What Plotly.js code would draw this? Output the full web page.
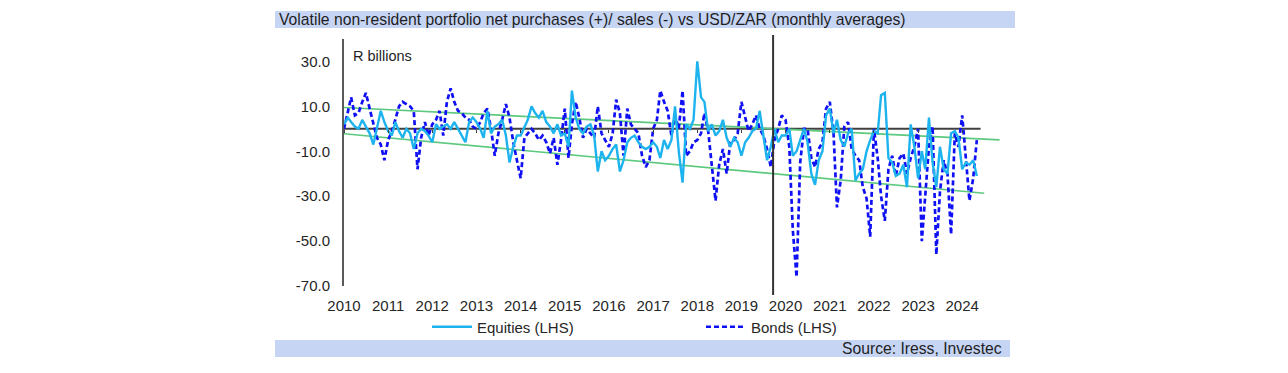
<!DOCTYPE html>
<html>
<head>
<meta charset="utf-8">
<script src="https://cdn.plot.ly/plotly-3.0.1.min.js"></script>
<style>
html,body{margin:0;padding:0;background:#fff;}
#chart{width:1288px;height:373px;}
</style>
</head>
<body>
<div id="chart"></div>
<script>
// ---- Data (R billions, monthly, Jan 2010 - May 2024) ----
var startYear = 2010;
var years = [2010,2011,2012,2013,2014,2015,2016,2017,2018,2019,2020,2021,2022,2023,2024];
var yearLabels = ["2010","2011","2012","2013","2014","2015","2016","2017","2018","2019","2020","2021","2022","2023","2024"];
var yTickVals = [-70, -50, -30, -10, 10, 30];
var yTickLabels = ["-70.0", "-50.0", "-30.0", "-10.0", "10.0", "30.0"];

var equities = [
  // 2010
  2, 5, 3, 1, 0, 4, 1, -2, -7, 0, 8, 3,
  // 2011
  -1, -3, 3, -1, -4, 0, -2, -9, -2, 0, -1, -3,
  // 2012
  -6, 2, 0, 1, 2, 0, 3, 0, -3, -6, 3, 5,
  // 2013
  3, 0, -4, 8, -2, 1, 2, 4, -3, -15, -8, -3,
  // 2014
  -3, 1, 4, 10, 7, 5, 8, 3, 1, -2, 2, -3,
  // 2015
  -2, -8, 17, 5, 0, -2, 1, 2, -3, -19, -10, -14,
  // 2016
  -12, -9, -7, -19, -14, -6, -4, -3, -6, -8, -9, -8,
  // 2017
  -6, -8, -13, -5, -9, -5, 10, -10, -24, 2, 0, 4,
  // 2018
  30, 14, 12, -1, 2, -3, -1, 4, -4, -8, -4, -6,
  // 2019
  -12, -6, -4, -1, 0, 8, -4, -14, -8, 0, -6, -3,
  // 2020
  -3, 0, -12, -10, -5, 0, -6, -20, -25, -14, -10, 6,
  // 2021
  9, -2, 4, -5, -8, -2, 0, -23, -20, -18, -10, -5,
  // 2022
  -1, -2, 15, 16, -13, -15, -21, -20, -16, -26, 2, -8,
  // 2023
  -22, -10, -18, 5, -15, -26, -8, -18, -20, -2, -1, -4,
  // 2024
  -18, -15, -16, -14, -21
];

var bonds = [
  // 2010
  0, 8, 14, 6, 7, 12, 16, 9, 2, -4, -7, -14,
  // 2011
  -5, -1, 4, 10, 12, 11, 10, 8, -18, -4, 3, -3,
  // 2012
  2, 4, 8, -3, 12, 18, 12, 8, 7, 5, 4, 1,
  // 2013
  0, 3, 7, 9, 0, -12, -2, 4, 11, 5, -6, -14,
  // 2014
  -22, -4, -2, 0, -2, -5, -3, -6, -11, -4, -16, -5,
  // 2015
  9, -13, 2, 12, 5, -4, 0, -2, -4, 10, -2, -5,
  // 2016
  -8, -2, 13, 7, -12, 9, 2, 0, -2, -12, -17, -14,
  // 2017
  0, 4, 17, 12, 8, -3, 6, 0, 17, -12, -10, -6,
  // 2018
  -5, -2, 7, -1, -16, -32, -16, -9, -20, -6, -5, -2,
  // 2019
  12, 5, -1, 2, 6, 0, -3, -9, -17, -5, 0, 6,
  // 2020
  4, -8, -45, -66, -15, 0, 0, -13, -17, -9, -6, 9,
  // 2021
  12, -2, -35, -23, 1, 3, -9, -12, -14, -26, -31, -48,
  // 2022
  0, -13, -30, -41, -18, -12, -21, -13, -11, -20, -13, -8,
  // 2023
  0, -50, -29, -8, 1, -56, -28, -14, -20, -47, -2, -8,
  // 2024
  6, -13, -32, -22, -5
];

// trend channel (green lines): start / end points
var upperTrendDates = ["2010-01-01", "2024-11-05"];
var upperTrendVals  = [9.5, -4.9];
var lowerTrendDates = ["2010-01-01", "2024-07-01"];
var lowerTrendVals  = [-2.2, -28.7];

// ---- Build month categories ----
function pad(n){ return (n<10?"0":"")+n; }
var months = [];
for (var i = 0; i < equities.length; i++) {
  months.push((startYear + Math.floor(i/12)) + "-" + pad(i%12 + 1) + "-01");
}
var tickDates = years.map(function(y){ return y + "-01-01"; });

var FONT = "Liberation Sans, Arial, Helvetica, sans-serif";
var TXT = "#262626";
var xRange = ["2010-01-01", "2024-12-20"];

var traces = [
  {x: upperTrendDates, y: upperTrendVals, mode: "lines", type: "scatter",
   line: {color: "#5CC97E", width: 1.7}, showlegend: false, hoverinfo: "skip"},
  {x: lowerTrendDates, y: lowerTrendVals, mode: "lines", type: "scatter",
   line: {color: "#5CC97E", width: 1.7}, showlegend: false, hoverinfo: "skip"},
  {x: months, y: bonds, name: "Bonds (LHS)", mode: "lines", type: "scatter",
   line: {color: "#1010F5", width: 2.7, dash: "5px,3px"}, legendrank: 2},
  {x: months, y: equities, name: "Equities (LHS)", mode: "lines", type: "scatter",
   line: {color: "#1DB3EE", width: 2.4}, legendrank: 1},
  {x: [], y: [], xaxis: "x2", yaxis: "y", showlegend: false, hoverinfo: "skip", type: "scatter"}
];

var plotTop = 39, plotBottom = 286, plotLeft = 344, plotRight = 1005;
var pw = plotRight - plotLeft, ph = plotBottom - plotTop;
function px2fx(px){ return (px - plotLeft) / pw; }
function py2fy(py){ return (plotBottom - py) / ph; }

var layout = {
  width: 1288, height: 373,
  margin: {l: plotLeft, r: 1288 - plotRight, t: plotTop, b: 373 - plotBottom, pad: 0},
  paper_bgcolor: "#ffffff", plot_bgcolor: "#ffffff",
  font: {family: FONT, size: 15, color: TXT},
  showlegend: true,
  xaxis: {
    type: "date", range: xRange, tickvals: tickDates, ticktext: yearLabels,
    showgrid: false, zeroline: false, showline: false, ticks: "",
    ticklabelstandoff: 9, tickfont: {family: FONT, size: 15, color: TXT}
  },
  xaxis2: {
    type: "date", range: xRange, overlaying: "x", anchor: "free", position: 70/110,
    tickvals: tickDates, showticklabels: false, ticks: "outside", ticklen: 3,
    tickwidth: 1, tickcolor: "#404040", showgrid: false, zeroline: false, showline: false
  },
  yaxis: {
    range: [-70, 40], tickvals: yTickVals, ticktext: yTickLabels,
    showgrid: false, zeroline: false, showline: true, linecolor: "#595959", linewidth: 2,
    ticks: "", ticklabelstandoff: 9, tickfont: {family: FONT, size: 15, color: TXT}
  },
  legend: {
    orientation: "h", x: px2fx(427), xanchor: "left", y: py2fy(327), yanchor: "middle",
    font: {family: FONT, size: 15, color: TXT}, bgcolor: "rgba(0,0,0,0)",
    entrywidth: 219, entrywidthmode: "pixels", itemwidth: 40, traceorder: "normal"
  },
  shapes: [
    {type: "rect", xref: "paper", yref: "paper", x0: px2fx(275), x1: px2fx(1015),
     y0: py2fy(28), y1: py2fy(11), fillcolor: "#C6D5F4", line: {width: 0}, layer: "below"},
    {type: "rect", xref: "paper", yref: "paper", x0: px2fx(275), x1: px2fx(1010),
     y0: py2fy(357), y1: py2fy(340), fillcolor: "#C6D5F4", line: {width: 0}, layer: "below"},
    {type: "line", xref: "x", yref: "y", x0: "2010-01-01", x1: "2024-06-01", y0: 0, y1: 0,
     line: {color: "#404040", width: 2}, layer: "below"},
    {type: "line", xref: "x", yref: "paper", x0: "2019-09-20", x1: "2019-09-20",
     y0: py2fy(295), y1: py2fy(35), line: {color: "#333333", width: 2}, layer: "above"}
  ],
  annotations: [
    {xref: "paper", yref: "paper", x: px2fx(277), y: py2fy(19.5), xanchor: "left", yanchor: "middle",
     text: "Volatile non-resident portfolio net purchases (+)/ sales (-) vs USD/ZAR (monthly averages)",
     showarrow: false, font: {family: FONT, size: 15.7, color: "#1e1e1e"}},
    {xref: "paper", yref: "paper", x: px2fx(1004), y: py2fy(348.5), xanchor: "right", yanchor: "middle",
     text: "Source: Iress, Investec", showarrow: false, font: {family: FONT, size: 15.7, color: "#1e1e1e"}},
    {xref: "paper", yref: "paper", x: px2fx(351), y: py2fy(55.5), xanchor: "left", yanchor: "middle",
     text: "R billions", showarrow: false, font: {family: FONT, size: 14.5, color: "#1e1e1e"}}
  ]
};

Plotly.newPlot("chart", traces, layout, {displayModeBar: false, staticPlot: true});
</script>
</body>
</html>
